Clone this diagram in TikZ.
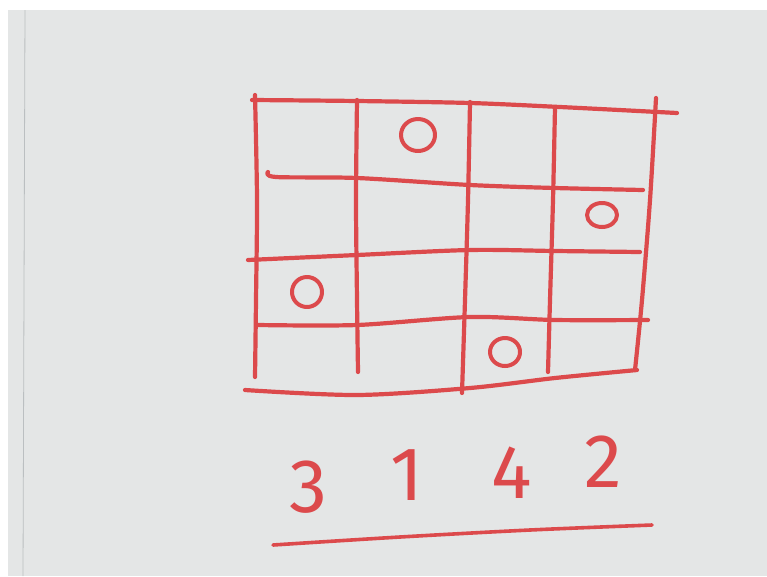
\documentclass[tikz,border=0pt]{standalone}
\usepackage{fontspec}
\setsansfont{Fira Sans}
\usetikzlibrary{positioning, calc}
\definecolor{Marker}{HTML}{DC4A4C}
\definecolor{Board}{HTML}{E4E6E6}
\definecolor{Edge}{HTML}{8E9498}
\tikzset{
    pen/.style={draw=Marker, line width=4.2pt, line cap=round, line join=round},
    mark0/.style={pen, line width=4pt},
    digit/.style={text=Marker, inner sep=0pt, font=\sffamily\fontsize{76}{76}\selectfont},
}

\begin{document}
\begin{tikzpicture}[x=1pt, y=-1pt]

    % Lavagna (sfondo)
    \fill[white] (0,0) rectangle (767,576);
    \fill[Board] (8,10) rectangle (767,576);
    \draw[Edge!60, line width=0.8pt] (25,10) -- (23,576);
    \useasboundingbox (0,0) rectangle (767,576);

    % --- 1. Griglia 4x4 disegnata a mano ---
    % Linee verticali
    \draw[pen] plot[smooth] coordinates {(255,95) (257,200) (256,300) (255,377)};
    \draw[pen] plot[smooth] coordinates {(357,100) (356,200) (357,300) (358,372)};
    \draw[pen] plot[smooth] coordinates {(470,102) (468,200) (465,300) (462,393)};
    \draw[pen] plot[smooth] coordinates {(555,107) (553,200) (550,300) (548,372)};
    \draw[pen] plot[smooth] coordinates {(656,98) (650,200) (642,300) (635,370)};

    % Linee orizzontali
    \draw[pen] plot[smooth] coordinates {(252,100) (357,101) (470,103) (560,107) (677,113)};
    \draw[pen] plot[smooth] coordinates {(268,172) (276,177) (357,178) (470,185) (555,188) (643,190)};
    \draw[pen] plot[smooth] coordinates {(248,260) (357,255) (470,250) (555,251) (640,252)};
    \draw[pen] plot[smooth] coordinates {(258,325) (357,325) (470,317) (555,320) (648,320)};
    \draw[pen] plot[smooth] coordinates {(245,390) (357,395) (470,388) (555,378) (637,370)};

    % --- 2. I cerchi (una regina per riga) ---
    \draw[mark0] (418,135) ellipse (17pt and 16pt);
    \draw[mark0] (602,215) ellipse (15pt and 12pt);
    \draw[mark0] (307,292) ellipse (15pt and 15pt);
    \draw[mark0] (505,352) ellipse (15pt and 14pt);

    % --- 3. La permutazione sotto la griglia ---
    \node[digit] (d3) at (308,487) {3};
    \node[digit] (d1) at (407,475) {1};
    \node[digit] (d4) at (512,473) {4};
    \node[digit] (d2) at (603,462) {2};

    % Sottolineatura
    \draw[pen, line width=3.6pt] plot[smooth] coordinates {(273,545) (400,537) (530,530) (652,525)};

\end{tikzpicture}
\end{document}
